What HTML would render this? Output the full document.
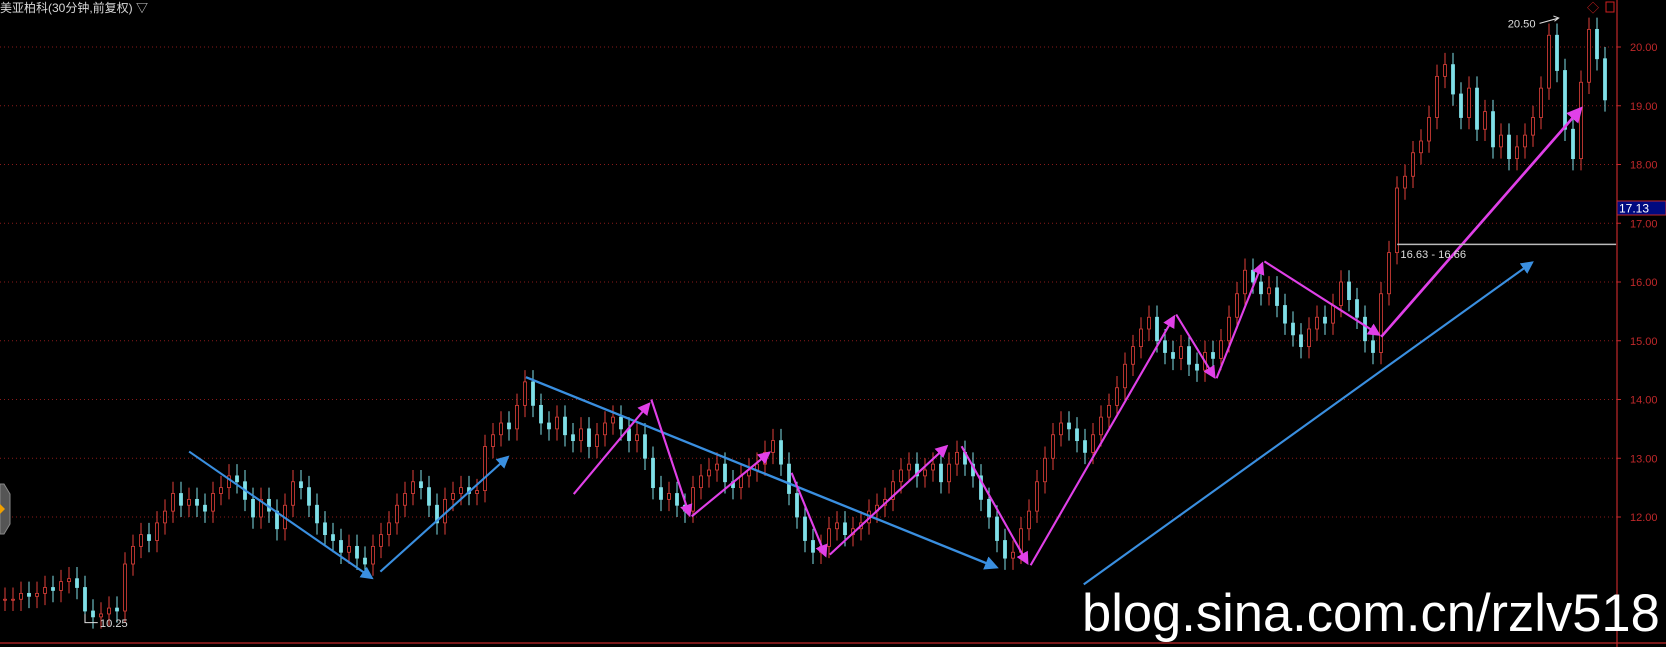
<!DOCTYPE html>
<html><head><meta charset="utf-8"><style>
html,body{margin:0;padding:0;background:#000;width:1666px;height:647px;overflow:hidden}
svg{display:block}
</style></head><body>
<svg id="chart" width="1666" height="647" xmlns="http://www.w3.org/2000/svg" font-family="Liberation Sans, Noto Sans CJK SC, sans-serif">
<rect width="1666" height="647" fill="#000"/>
<g id="grid"></g>
<g id="candles"></g>
<line x1="1617" y1="0" x2="1617" y2="647" stroke="#c0282a" stroke-width="1.2"/>
<line x1="0" y1="643" x2="1666" y2="643" stroke="#c0282a" stroke-width="1.2"/>
<g id="yticks"></g>
<text x="0" y="12" fill="#d8d8d8" font-size="12" font-family="Liberation Sans, Noto Sans CJK SC, sans-serif">美亚柏科(30分钟,前复权) ▽</text>
<text x="1587" y="12" fill="#d02020" font-size="12">◇</text>
<rect x="1606" y="2" width="8" height="10" fill="none" stroke="#d02020"/>
<polygon points="0,484 4,484 10,494 10,524 4,534 0,534" fill="#555" stroke="#888"/>
<polygon points="0,504 5,509 0,514" fill="#f0a000"/>
<g transform="scale(1.0625)">
<defs>
<marker id="ab" markerWidth="6" markerHeight="6" refX="5" refY="3" orient="auto" markerUnits="strokeWidth"><path d="M0,0 L6,3 L0,6 z" fill="#3a8fe0"/></marker>
<marker id="am" markerWidth="6" markerHeight="6" refX="5" refY="3" orient="auto" markerUnits="strokeWidth"><path d="M0,0 L6,3 L0,6 z" fill="#e040e8"/></marker>
</defs>
<g stroke="#3a8fe0" fill="none" marker-end="url(#ab)">
<line x1="178" y1="425" x2="350" y2="544" stroke-width="2"/>
<line x1="358" y1="538" x2="478" y2="430" stroke-width="2"/>
<line x1="495" y1="355" x2="938" y2="534" stroke-width="2.2"/>
<line x1="1020" y1="550" x2="1442" y2="247" stroke-width="2"/>
</g>
<g stroke="#e040e8" fill="none" stroke-width="2" marker-end="url(#am)">
<line x1="540" y1="465" x2="611" y2="380"/>
<line x1="613" y1="376" x2="649" y2="485"/>
<line x1="651" y1="486" x2="724" y2="426"/>
<line x1="745" y1="445" x2="777" y2="523"/>
<line x1="781" y1="522" x2="891" y2="420"/>
<line x1="905" y1="420" x2="967" y2="530"/>
<line x1="970" y1="532" x2="1105" y2="298"/>
<line x1="1107" y1="296" x2="1143" y2="355"/>
<line x1="1145" y1="356" x2="1188" y2="248"/>
<line x1="1190" y1="246" x2="1298" y2="315"/>
<line x1="1300" y1="317" x2="1488" y2="102" stroke-width="2.5"/>
</g>
<line x1="1315" y1="230" x2="1521" y2="230" stroke="#bbb" stroke-width="1.5"/>
<text x="1318" y="243" fill="#ddd" font-size="10.5">16.63 - 16.66</text>
<text x="1419" y="26" fill="#ddd" font-size="10.5">20.50</text>
<path d="M1449,22 L1467,17 M1462,15 L1467,17 L1463,20" stroke="#ddd" fill="none"/>
<text x="94" y="590" fill="#ddd" font-size="10.5">10.25</text>
<path d="M80,578 L80,586 L92,586" stroke="#ddd" fill="none"/>
</g>
<rect x="1617" y="201" width="49" height="14" fill="#000a80" stroke="#c0282a"/>
<text x="1619" y="212.5" fill="#fff" font-size="12">17.13</text>
<text x="1082" y="631" fill="#fff" font-size="52.5">blog.sina.com.cn/rzlv518</text>
</svg>
<script>
const yTicks=[12,13,14,15,16,17,18,19,20];
const closes=[10.6,10.6,10.7,10.65,10.7,10.8,10.75,10.9,10.95,10.8,
10.4,10.3,10.35,10.45,10.4,
11.2,11.5,11.7,11.6,11.9,12.1,12.4,12.2,12.3,
12.2,12.1,12.4,12.5,12.7,12.6,12.3,
12.0,12.3,12.1,11.8,12.2,12.6,12.5,12.2,11.9,
11.7,11.6,11.4,11.5,11.3,11.2,11.5,
11.7,11.9,12.2,12.4,12.6,12.5,
12.2,11.9,12.3,12.4,12.5,12.4,12.45,
13.2,13.4,13.6,13.5,13.9,14.3,
13.9,13.6,13.5,13.7,13.4,13.3,13.5,13.2,13.4,13.6,13.7,13.5,13.3,13.4,13.0,
12.5,12.3,12.4,12.2,12.1,
12.5,12.7,12.8,12.9,12.6,12.5,12.7,12.8,12.9,13.1,13.3,
12.9,12.4,12.0,11.6,11.4,11.5,
11.8,11.9,11.7,11.8,11.9,12.1,12.2,12.3,
12.6,12.8,12.9,12.7,12.8,12.9,12.6,12.9,13.1,12.9,
12.7,12.3,12.0,11.6,11.3,11.4,11.8,
12.1,12.6,13.0,13.4,13.6,13.5,13.3,13.1,13.4,13.7,13.9,14.2,14.6,14.9,15.2,15.4,
15.0,14.8,14.7,14.9,14.6,14.5,
14.8,14.7,15.0,15.4,15.8,16.2,
16.0,15.8,15.9,15.6,15.3,15.1,14.9,15.2,15.4,15.3,15.6,16.0,15.7,15.4,15.0,
14.8,15.8,16.5,
17.6,17.8,18.2,18.4,18.8,19.5,19.7,19.2,18.8,19.3,18.6,18.9,18.3,18.5,18.1,18.3,18.5,
18.8,19.3,20.2,19.6,18.6,18.1,19.4,20.3,19.8,
19.1];
const NS='http://www.w3.org/2000/svg';
function yScale(v){return 47+(20-v)*58.75;}
function xScale(i){return 5+i*8;}
const grid=document.getElementById('grid'),yt=document.getElementById('yticks'),cg=document.getElementById('candles');
yTicks.forEach(v=>{
  const l=document.createElementNS(NS,'line');
  l.setAttribute('x1',0);l.setAttribute('x2',1617);l.setAttribute('y1',yScale(v));l.setAttribute('y2',yScale(v));
  l.setAttribute('stroke','#8a1a1a');l.setAttribute('stroke-dasharray','1,3');
  
  
  grid.appendChild(l);
  const t=document.createElementNS(NS,'text');
  t.setAttribute('x',1630);t.setAttribute('y',yScale(v)+4);t.setAttribute('fill','#c0282a');t.setAttribute('font-size','11');
  t.textContent=v.toFixed(2);
  
  
  yt.appendChild(t);
  const k=document.createElementNS(NS,'line');
  k.setAttribute('x1',1617);k.setAttribute('x2',1621);k.setAttribute('y1',yScale(v));k.setAttribute('y2',yScale(v));k.setAttribute('stroke','#c0282a');
  
  
  yt.appendChild(k);
});
closes.forEach((c,i)=>{
  const o=i?closes[i-1]:c;
  const up=c>=o,col=up?'#e0403a':'#7fe0e8';
  const hi=Math.max(o,c)+0.2,lo=Math.min(o,c)-0.2;
  const x=xScale(i);
  const w=document.createElementNS(NS,'line');
  w.setAttribute('x1',x);w.setAttribute('x2',x);w.setAttribute('y1',yScale(hi));w.setAttribute('y2',yScale(lo));
  w.setAttribute('stroke',col);w.setAttribute('stroke-width','1');
  
  
  cg.appendChild(w);
  const b=document.createElementNS(NS,'rect');
  const y1=yScale(Math.max(o,c)),y2=yScale(Math.min(o,c));
  b.setAttribute('x',x-1.5);b.setAttribute('width',3);b.setAttribute('y',y1);b.setAttribute('height',Math.max(1,y2-y1));
  b.setAttribute('fill',up?'#000':col);b.setAttribute('stroke',col);b.setAttribute('stroke-width','0.8');
  
  
  cg.appendChild(b);
});
</script>
</body></html>
